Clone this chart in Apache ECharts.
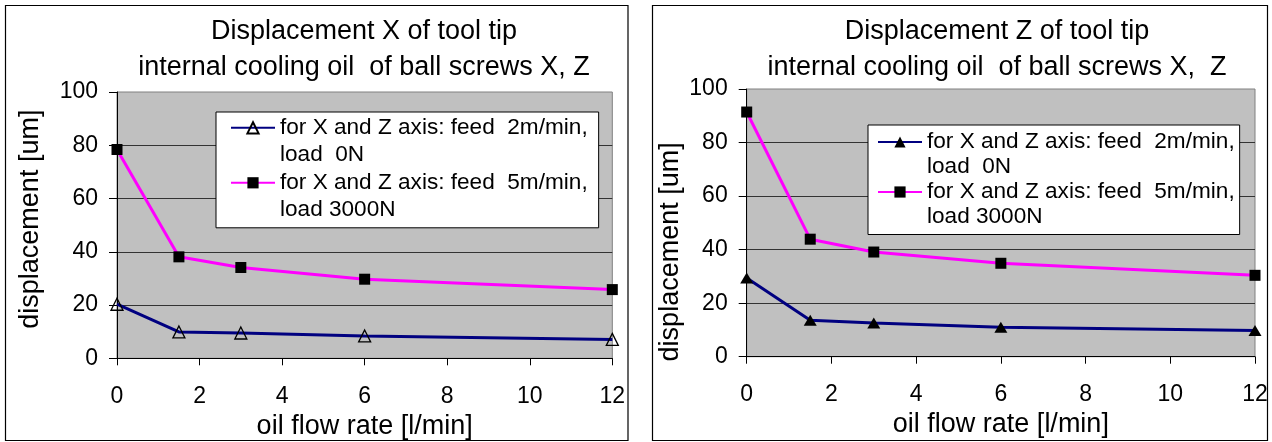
<!DOCTYPE html>
<html><head><meta charset="utf-8">
<script src="https://cdn.jsdelivr.net/npm/echarts@6/dist/echarts.min.js"></script>
<style>html,body{margin:0;padding:0;background:#fff}#c{width:1272px;height:442px}</style>
</head><body><div id="c"></div>
<script>
// ---- data ----
const flowRate = [0, 1.5, 3, 6, 12];
const xDispLow = [20.3, 9.9, 9.5, 8.4, 7.1];
const xDispHigh = [78.4, 38.1, 34.1, 29.7, 25.8];
const zDispLow = [29.4, 13.6, 12.6, 11.0, 9.8];
const zDispHigh = [91.4, 43.9, 39.1, 34.9, 30.4];
const xTickValues = [0, 2, 4, 6, 8, 10, 12];
const yTickValues = [0, 20, 40, 60, 80, 100];
const titleX = 'Displacement X of tool tip\ninternal cooling oil  of ball screws X, Z';
const titleZ = 'Displacement Z of tool tip\ninternal cooling oil  of ball screws X,  Z';
const nameLow = 'for X and Z axis: feed  2m/min,\nload  0N';
const nameHigh = 'for X and Z axis: feed  5m/min,\nload 3000N';
const xAxisName = 'oil flow rate [l/min]';
const yAxisName = 'displacement [um]';

const pairs = (xs, ys) => xs.map((x, i) => [x, ys[i]]);
const FONT = 'Liberation Sans';

function xAxisFor(idx, nameGap, labelMargin) {
  return {
    gridIndex: idx, type: 'value',
    min: xTickValues[0], max: xTickValues[xTickValues.length - 1],
    interval: xTickValues[1] - xTickValues[0],
    name: xAxisName, nameLocation: 'middle', nameGap: nameGap,
    nameTextStyle: {fontSize: 27, color: '#000', fontFamily: FONT},
    axisLine: {show: true, onZero: false, lineStyle: {color: '#000', width: 1}},
    axisTick: {show: true, length: 7, lineStyle: {color: '#000'}},
    axisLabel: {fontSize: 23, color: '#000', margin: labelMargin, fontFamily: FONT},
    splitLine: {show: false}
  };
}
function yAxisFor(idx, nameGap, pad) {
  return {
    gridIndex: idx, type: 'value',
    min: yTickValues[0], max: yTickValues[yTickValues.length - 1],
    interval: yTickValues[1] - yTickValues[0],
    name: yAxisName, nameLocation: 'middle', nameGap: nameGap,
    nameTextStyle: {fontSize: 27, color: '#000', fontFamily: FONT, padding: pad},
    axisLine: {show: true, lineStyle: {color: '#000', width: 1}},
    axisTick: {show: true, length: 8, lineStyle: {color: '#000'}},
    axisLabel: {fontSize: 23, color: '#000', margin: 19, fontFamily: FONT},
    splitLine: {show: true, showMinLine: false, showMaxLine: false, lineStyle: {color: '#333', width: 1}}
  };
}
function legendFor(names, left, top, lh, gap, pad) {
  return {
    data: names, orient: 'vertical', left: left, top: top,
    itemWidth: 44, itemHeight: 14, itemGap: gap,
    backgroundColor: '#fff', borderColor: '#000', borderWidth: 1,
    padding: pad,
    formatter: (n) => '\n' + n,
    textStyle: {fontSize: 22.6, color: '#000', fontFamily: FONT, lineHeight: lh}
  };
}

const chart = echarts.init(document.getElementById('c'), null, {renderer: 'canvas'});
chart.setOption({
  backgroundColor: '#fff',
  animation: false,
  textStyle: {fontFamily: FONT},
  graphic: [
    {type: 'rect', shape: {x: 5.5, y: 5.5, width: 622.5, height: 435}, style: {fill: 'none', stroke: '#000', lineWidth: 1.2}, z: -10},
    {type: 'rect', shape: {x: 652.5, y: 5.5, width: 615, height: 435}, style: {fill: 'none', stroke: '#000', lineWidth: 1.2}, z: -10}
  ],
  title: [
    {text: titleX, left: 359, top: 9, textAlign: 'center',
     textStyle: {fontSize: 27, fontWeight: 'normal', color: '#000', lineHeight: 36, fontFamily: FONT}},
    {text: titleZ, left: 992, top: 9, textAlign: 'center',
     textStyle: {fontSize: 27, fontWeight: 'normal', color: '#000', lineHeight: 36, fontFamily: FONT}}
  ],
  grid: [
    {left: 117, top: 92, right: 1272 - 612.3, bottom: 442 - 358.3, show: true, outerBoundsMode: 'none',
     backgroundColor: '#c0c0c0', borderColor: '#808080', borderWidth: 1, containLabel: false},
    {left: 746.7, top: 89, right: 1272 - 1255, bottom: 442 - 356.7, show: true, outerBoundsMode: 'none',
     backgroundColor: '#c0c0c0', borderColor: '#808080', borderWidth: 1, containLabel: false}
  ],
  xAxis: [xAxisFor(0, 44, 27), xAxisFor(1, 41, 26)],
  yAxis: [yAxisFor(0, 73, [0, 0, 0, 12]), yAxisFor(1, 63, [0, 58, 0, 0])],
  legend: [
    legendFor([nameLow, nameHigh], 216, 112, 27, -26, [-24.7, 11, 4.5, 14]),
    legendFor([nameLow + ' ', nameHigh + ' '], 868, 125, 25, -25, [-20.5, 5, 5, 9])
  ],
  series: [
    {type: 'line', name: nameLow, xAxisIndex: 0, yAxisIndex: 0, data: pairs(flowRate, xDispLow),
     symbol: 'triangle', symbolSize: [12, 12],
     lineStyle: {color: '#000080', width: 3},
     itemStyle: {color: 'rgba(0,0,0,0)', borderColor: '#000', borderWidth: 1.3}},
    {type: 'line', name: nameHigh, xAxisIndex: 0, yAxisIndex: 0, data: pairs(flowRate, xDispHigh),
     symbol: 'rect', symbolSize: 11,
     lineStyle: {color: '#ff00ff', width: 3},
     itemStyle: {color: '#000', borderColor: '#000', borderWidth: 0}},
    {type: 'line', name: nameLow + ' ', xAxisIndex: 1, yAxisIndex: 1, data: pairs(flowRate, zDispLow),
     symbol: 'triangle', symbolSize: [13, 11],
     lineStyle: {color: '#000080', width: 3},
     itemStyle: {color: '#000', borderColor: '#000', borderWidth: 0}},
    {type: 'line', name: nameHigh + ' ', xAxisIndex: 1, yAxisIndex: 1, data: pairs(flowRate, zDispHigh),
     symbol: 'rect', symbolSize: 11,
     lineStyle: {color: '#ff00ff', width: 3},
     itemStyle: {color: '#000', borderColor: '#000', borderWidth: 0}}
  ]
});
</script></body></html>
